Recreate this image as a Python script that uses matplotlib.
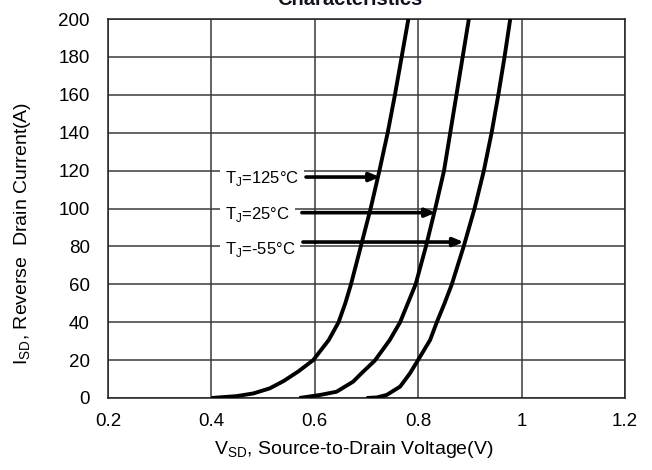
import matplotlib

matplotlib.use("Agg")
import matplotlib.pyplot as plt

# ── Data ─────────────────────────────────────────────────────────────
v_125 = [0.40, 0.449, 0.481, 0.513, 0.540, 0.568, 0.597, 0.627, 0.646,
         0.659, 0.670, 0.689, 0.708, 0.725, 0.741, 0.755, 0.768, 0.781]
i_125 = [0, 1.0, 2.4, 5.1, 9.0, 14.0, 20.0, 30.6, 40,
         50, 60, 80, 100, 120, 140, 160, 180, 200]

v_25 = [0.57, 0.610, 0.642, 0.674, 0.692, 0.716, 0.745, 0.765, 0.780,
        0.795, 0.815, 0.833, 0.850, 0.862, 0.874, 0.886, 0.898]
i_25 = [0, 1.6, 3.3, 8.6, 13.5, 19.7, 30.6, 40, 50,
        60, 80, 100, 120, 140, 160, 180, 200]

v_m55 = [0.70, 0.720, 0.739, 0.765, 0.784, 0.799, 0.823, 0.836, 0.851,
         0.865, 0.888, 0.909, 0.927, 0.942, 0.955, 0.967, 0.978]
i_m55 = [0, 0.3, 1.6, 6, 13, 19.7, 30.6, 40, 50,
         60, 80, 100, 120, 140, 160, 180, 200]

# annotation labels: text, arrow height (A), arrow tail / tip voltage, label anchor
labels = [r"T$_\mathregular{J}$=125°C", r"T$_\mathregular{J}$=25°C", r"T$_\mathregular{J}$=-55°C"]
arrow_i = [116.6, 97.8, 82.3]
arrow_tail_v = [0.583, 0.575, 0.577]
arrow_tip_v = [0.726, 0.834, 0.888]
label_v = [0.426, 0.426, 0.426]
label_i = [116.0, 96.6, 78.5]

x_ticks = [0.2, 0.4, 0.6, 0.8, 1.0, 1.2]
x_ticklabels = ["0.2", "0.4", "0.6", "0.8", "1", "1.2"]
y_ticks = list(range(0, 201, 20))

# ── Figure ───────────────────────────────────────────────────────────
plt.rcParams["font.family"] = ["Liberation Sans", "DejaVu Sans"]
plt.rcParams["mathtext.fontset"] = "custom"
plt.rcParams["mathtext.rm"] = "Liberation Sans"

fig = plt.figure(figsize=(6.52, 4.70), dpi=100)
ax = fig.add_axes([108 / 652, 1 - 398 / 470, 517 / 652, 379 / 470])

for v, i in ((v_125, i_125), (v_25, i_25), (v_m55, i_m55)):
    ax.plot(v, i, color="black", linewidth=2.8, solid_joinstyle="round",
            solid_capstyle="butt", zorder=3)

ax.set_xlim(0.2, 1.2)
ax.set_ylim(0, 200)
ax.set_xticks(x_ticks)
ax.set_xticklabels(x_ticklabels)
ax.set_yticks(y_ticks)
ax.grid(True, color="#3a3a3a", linewidth=1.1)
ax.set_axisbelow(True)
for s in ax.spines.values():
    s.set_color("#222222")
    s.set_linewidth(1.1)
ax.tick_params(axis="both", length=0, labelsize=13.5)
ax.tick_params(axis="x", pad=11)
ax.tick_params(axis="y", pad=13)

for txt, ai, tail, tip, lv, li in zip(labels, arrow_i, arrow_tail_v, arrow_tip_v, label_v, label_i):
    ax.text(lv, li, txt, fontsize=12, va="center", ha="left", zorder=2,
            bbox=dict(facecolor="white", edgecolor="none", pad=3.5))
    ax.annotate("", xy=(tip, ai), xytext=(tail, ai), zorder=4,
                arrowprops=dict(arrowstyle="-|>,head_length=0.6,head_width=0.25",
                                color="black", linewidth=2.6, shrinkA=0, shrinkB=0))

ax.set_xlabel(r"V$_\mathregular{SD}$, Source-to-Drain Voltage(V)", fontsize=14, va="center")
ax.xaxis.set_label_coords((354 - 108) / 517, (398 - 450) / 379)
ax.set_ylabel(r"I$_\mathregular{SD}$, Reverse  Drain Current(A)", fontsize=14, va="center")
ax.yaxis.set_label_coords((23 - 108) / 517, (398 - 233.5) / 379)

fig.text(350 / 652, 1 - 5 / 470, "Characteristics", fontsize=14.5, fontweight="bold",
         ha="center", va="baseline", color="#111122")

fig.savefig("out.png", dpi=100)
plt.close(fig)
